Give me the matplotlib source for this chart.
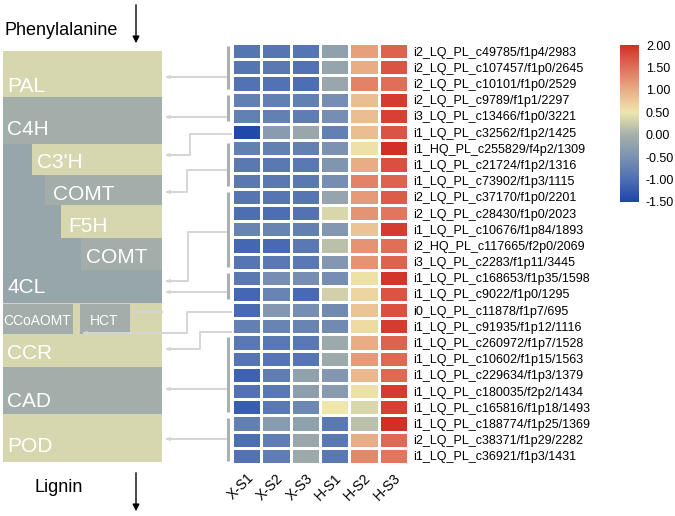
import numpy as np
import matplotlib
matplotlib.use('Agg')
import matplotlib.pyplot as plt
import matplotlib.transforms as mtransforms
from matplotlib.colors import LinearSegmentedColormap
from matplotlib.patches import Rectangle

plt.rcParams['font.family'] = ['Liberation Sans', 'DejaVu Sans']

# --- data ---
samples = ['X-S1', 'X-S2', 'X-S3', 'H-S1', 'H-S2', 'H-S3']
genes = [
    'i2_LQ_PL_c49785/f1p4/2983', 'i2_LQ_PL_c107457/f1p0/2645', 'i2_LQ_PL_c10101/f1p0/2529',
    'i2_LQ_PL_c9789/f1p1/2297', 'i3_LQ_PL_c13466/f1p0/3221', 'i1_LQ_PL_c32562/f1p2/1425',
    'i1_HQ_PL_c255829/f4p2/1309', 'i1_LQ_PL_c21724/f1p2/1316', 'i1_LQ_PL_c73902/f1p3/1115',
    'i2_LQ_PL_c37170/f1p0/2201', 'i2_LQ_PL_c28430/f1p0/2023', 'i1_LQ_PL_c10676/f1p84/1893',
    'i2_HQ_PL_c117665/f2p0/2069', 'i3_LQ_PL_c2283/f1p11/3445', 'i1_LQ_PL_c168653/f1p35/1598',
    'i1_LQ_PL_c9022/f1p0/1295', 'i0_LQ_PL_c11878/f1p7/695', 'i1_LQ_PL_c91935/f1p12/1116',
    'i1_LQ_PL_c260972/f1p7/1528', 'i1_LQ_PL_c10602/f1p15/1563', 'i1_LQ_PL_c229634/f1p3/1379',
    'i1_LQ_PL_c180035/f2p2/1434', 'i1_LQ_PL_c165816/f1p18/1493', 'i1_LQ_PL_c188774/f1p25/1369',
    'i2_LQ_PL_c38371/f1p29/2282', 'i1_LQ_PL_c36921/f1p3/1431',
]
values = [
    [-0.90, -0.90, -0.90, -0.25, 1.10, 1.60],
    [-0.90, -0.85, -0.95, -0.20, 1.00, 1.70],
    [-0.95, -0.95, -1.00, -0.15, 1.35, 1.50],
    [-0.75, -0.75, -0.75, -0.55, 0.85, 1.90],
    [-0.75, -0.75, -0.80, -0.55, 0.85, 1.85],
    [-1.45, -0.35, -0.15, -0.75, 0.85, 1.70],
    [-0.75, -0.75, -0.75, -0.50, 0.55, 2.00],
    [-0.85, -0.85, -0.85, -0.45, 1.00, 1.75],
    [-0.85, -0.85, -0.85, -0.55, 1.35, 1.60],
    [-0.90, -0.90, -0.90, -0.20, 1.15, 1.65],
    [-1.00, -1.00, -0.95, 0.35, 1.20, 1.45],
    [-0.70, -0.70, -0.75, -0.40, 0.80, 1.90],
    [-1.10, -1.05, -0.85, 0.15, 1.20, 1.50],
    [-0.90, -0.85, -0.85, -0.40, 1.20, 1.60],
    [-0.85, -0.55, -0.55, -0.55, 0.55, 1.95],
    [-1.10, -0.70, -1.05, 0.30, 0.65, 1.70],
    [-1.05, -0.40, -0.55, -0.60, 0.80, 1.75],
    [-0.75, -0.70, -0.70, -0.60, 0.60, 1.90],
    [-0.85, -0.85, -0.85, -0.10, 1.00, 1.60],
    [-0.90, -0.90, -0.90, -0.10, 1.15, 1.55],
    [-1.15, -0.80, -0.25, -0.40, 0.90, 1.55],
    [-0.95, -0.85, -0.30, -0.35, 0.55, 1.90],
    [-1.20, -0.85, -0.65, 0.50, 0.35, 1.85],
    [-0.75, -0.35, -0.25, -0.85, 0.15, 2.00],
    [-1.00, -0.80, -0.15, -0.85, 1.00, 1.55],
    [-0.95, -0.80, -0.10, -0.85, 1.30, 1.45],
]
cbar_ticks = [-1.5, -1.0, -0.5, 0.0, 0.5, 1.0, 1.5, 2.0]
# gene groups (first row, last row) marked with a bracket
groups = [(0, 2), (3, 4), (6, 8), (9, 13), (14, 15), (18, 22), (23, 25)]

vmin, vmax = -1.5, 2.0
nodes = [(-1.5, '#1c46a8'), (-1.0, '#4d6fb4'), (-0.5, '#7b92b1'), (0.0, '#a6b0aa'),
         (0.5, '#efe6ac'), (1.0, '#e9ad85'), (1.5, '#e07058'), (2.0, '#d42f26')]
cmap = LinearSegmentedColormap.from_list(
    'hm', [((v - vmin) / (vmax - vmin), c) for v, c in nodes])

W, H = 675, 516
fig = plt.figure(figsize=(W / 100, H / 100), dpi=100)

# overlay in pixel coordinates for the pathway diagram
ov = fig.add_axes([0, 0, 1, 1])
ov.set_xlim(0, W)
ov.set_ylim(H, 0)
ov.axis('off')

# heatmap geometry (pixels)
hx0, hx1, hy0, hy1 = 232, 408, 43, 464
row_h = (hy1 - hy0) / len(genes)

khaki = '#d6d7af'
gray = '#a3adaa'
bgray = '#97a6ab'

boxes = [
    (3, 51, 162, 97, khaki), (3, 97, 162, 144, gray), (3, 144, 162, 303, bgray),
    (32, 144, 162, 175, khaki), (45, 175, 162, 205, gray), (61, 205, 162, 238, khaki),
    (81, 238, 162, 270, gray), (3, 303, 162, 367, khaki), (3, 304, 73, 334, gray),
    (80, 304, 130, 334, gray), (3, 367, 162, 414, gray), (3, 414, 162, 462, khaki),
]
for x0, y0, x1, y1, c in boxes:
    ov.add_patch(Rectangle((x0, y0), x1 - x0, y1 - y0, facecolor=c, edgecolor='none'))

labels = [
    ('PAL', 7, 92, 15), ('C4H', 7, 135, 15), ("C3'H", 37, 168, 15), ('COMT', 53, 200, 15),
    ('F5H', 68, 232, 15), ('COMT', 86, 263, 15), ('4CL', 7, 293, 15),
    ('CCoAOMT', 3, 325, 10), ('HCT', 90, 325, 10), ('CCR', 7, 359, 15),
    ('CAD', 7, 407, 15), ('POD', 7, 452, 15),
]
for t, x, y, fs in labels:
    ov.text(x, y, t, color='white', fontsize=fs, va='baseline', ha='left')

ov.text(5, 35, 'Phenylalanine', fontsize=13, va='baseline', ha='left')
ov.text(34, 492, 'Lignin', fontsize=13, va='baseline', ha='left')
for ya, yb in [(2, 46), (470, 514)]:
    ov.annotate('', xy=(136, yb), xytext=(136, ya),
                arrowprops=dict(arrowstyle='-|>', color='black', lw=1.0, mutation_scale=10))

# group brackets
for a, b in groups:
    ov.plot([228, 228], [hy0 + row_h * a + 3, hy0 + row_h * (b + 1) - 3],
            color='#a9b1ad', lw=2.2, solid_capstyle='butt')

# connectors
lc = '#d4d6d5'
paths = [
    [(226, 77), (163, 77)],
    [(226, 117), (163, 117)],
    [(232, 134), (190, 134), (190, 155), (163, 155)],
    [(226, 170), (187, 170), (187, 192), (163, 192)],
    [(226, 232), (188, 232), (188, 281), (163, 281)],
    [(226, 292), (163, 292)],
    [(232, 312), (187, 312), (187, 333), (80, 333)],
    [(232, 332), (200, 332), (200, 349), (163, 349)],
    [(226, 389), (163, 389)],
    [(226, 439), (163, 439)],
]
for p in paths:
    xs, ys = zip(*p)
    ov.plot(xs[:-1] + (xs[-1] + 4,), ys, color=lc, lw=1.4)
    ov.annotate('', xy=p[-1], xytext=(p[-1][0] + 8, p[-1][1]),
                arrowprops=dict(arrowstyle='-|>', color=lc, lw=1.0, mutation_scale=5))
ov.plot([132, 162], [312, 312], color=lc, lw=1.4)

# heatmap
ax = fig.add_axes([hx0 / W, 1 - hy1 / H, (hx1 - hx0) / W, (hy1 - hy0) / H])
data = np.array(values)
mesh = ax.pcolormesh(data, cmap=cmap, vmin=vmin, vmax=vmax,
                     edgecolors='white', linewidth=0.8)
ax.set_xlim(0, len(samples))
ax.set_ylim(len(genes), 0)
ax.set_xticks(np.arange(len(samples)) + 0.5)
ax.set_xticklabels(samples, rotation=45, ha='right', va='top', rotation_mode='anchor', fontsize=10)
shift = mtransforms.ScaledTranslation(5 / 100, 0, fig.dpi_scale_trans)
for lab in ax.get_xticklabels():
    lab.set_transform(lab.get_transform() + shift)
ax.set_yticks(np.arange(len(genes)) + 0.5)
ax.set_yticklabels(genes, fontsize=9)
ax.yaxis.tick_right()
ax.tick_params(length=0)
ax.tick_params(axis='y', pad=4)
ax.tick_params(axis='x', pad=5)
for s in ax.spines.values():
    s.set_visible(False)

# colorbar
cax = fig.add_axes([620 / W, 1 - 202 / H, 19 / W, 157 / H])
cb = fig.colorbar(mesh, cax=cax, ticks=cbar_ticks, format='%.2f')
cb.outline.set_visible(False)
cax.tick_params(length=0, labelsize=9, pad=5)

fig.savefig('out.png', dpi=100)
